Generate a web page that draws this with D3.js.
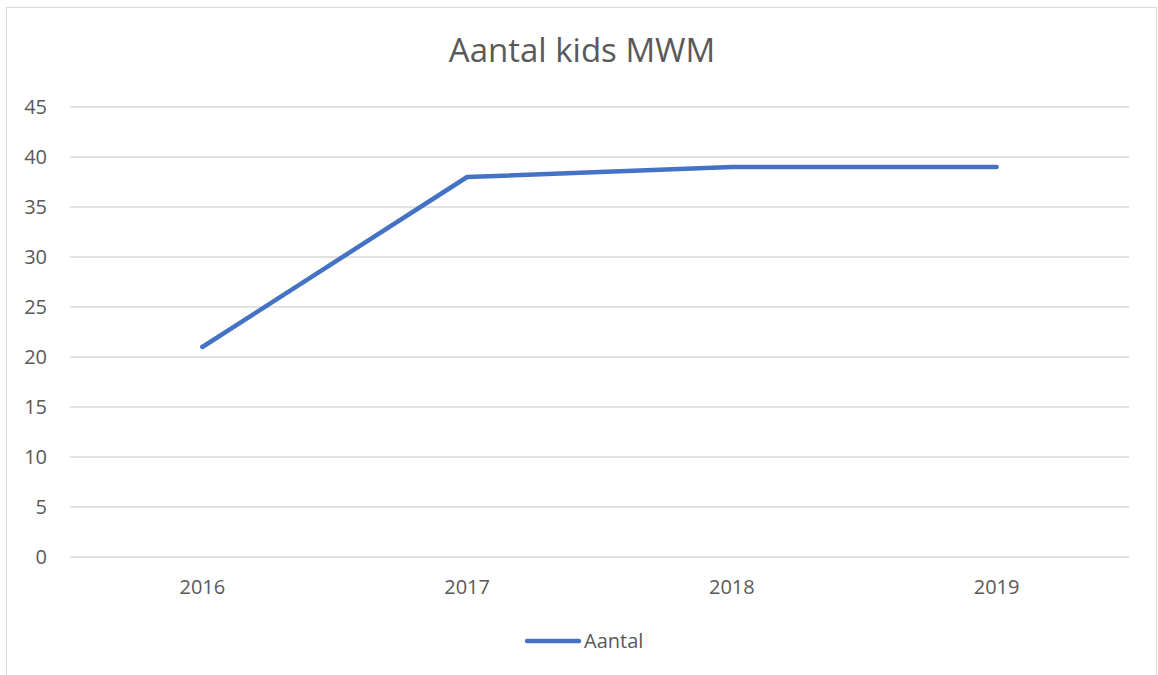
<!DOCTYPE html>
<meta charset="utf-8">
<style>
  body { margin: 0; background: #fff; }
  text { font-family: "Open Sans", "Noto Sans", sans-serif; fill: #595959; }
</style>
<body>
<script src="https://d3js.org/d3.v7.min.js"></script>
<script>

var years = ["2016", "2017", "2018", "2019"];
var aantal = [21, 38, 39, 39];
var yTicks = [0, 5, 10, 15, 20, 25, 30, 35, 40, 45];
var title = "Aantal kids MWM";
var seriesName = "Aantal";

var width = 1158, height = 675;
var plotLeft = 70, plotRight = 1129, plotTop = 107, plotBottom = 557;

var svg = d3.select("body").append("svg")
    .attr("width", width)
    .attr("height", height);

// chart frame
svg.append("rect")
   .attr("x", 6.5).attr("y", 7.5)
   .attr("width", 1150).attr("height", 690)
   .attr("fill", "none")
   .attr("stroke", "#d9d9d9");

var x = d3.scaleBand().domain(years).range([plotLeft, plotRight]);
var y = d3.scaleLinear().domain([0, 45]).range([plotBottom, plotTop]);

// gridlines
svg.selectAll("line.grid")
   .data(yTicks)
   .enter().append("line")
   .attr("class", "grid")
   .attr("x1", plotLeft).attr("x2", plotRight)
   .attr("y1", function(d){ return y(d); })
   .attr("y2", function(d){ return y(d); })
   .attr("stroke", "#d9d9d9")
   .attr("stroke-width", 1.3);

// y labels
svg.selectAll("text.ylab")
   .data(yTicks)
   .enter().append("text")
   .attr("class", "ylab")
   .attr("x", 47)
   .attr("y", function(d){ return y(d); })
   .attr("dy", "0.35em")
   .attr("text-anchor", "end")
   .style("font-size", "20px")
   .text(function(d){ return d; });

// x labels
svg.selectAll("text.xlab")
   .data(years)
   .enter().append("text")
   .attr("class", "xlab")
   .attr("x", function(d){ return x(d) + x.bandwidth() / 2; })
   .attr("y", 587)
   .attr("dy", "0.35em")
   .attr("text-anchor", "middle")
   .style("font-size", "20px")
   .text(function(d){ return d; });

// series line
var line = d3.line()
   .x(function(d, i){ return x(years[i]) + x.bandwidth() / 2; })
   .y(function(d){ return y(d); });

svg.append("path")
   .datum(aantal)
   .attr("d", line)
   .attr("fill", "none")
   .attr("stroke", "#4472c4")
   .attr("stroke-width", 4.5)
   .attr("stroke-linecap", "round")
   .attr("stroke-linejoin", "round");

// title
svg.append("text")
   .attr("x", 582)
   .attr("y", 50)
   .attr("dy", "0.35em")
   .attr("text-anchor", "middle")
   .style("font-size", "33px")
   .text(title);

// legend
svg.append("line")
   .attr("x1", 527).attr("x2", 579)
   .attr("y1", 641).attr("y2", 641)
   .attr("stroke", "#4472c4")
   .attr("stroke-width", 4.5)
   .attr("stroke-linecap", "round");

svg.append("text")
   .attr("x", 584)
   .attr("y", 641)
   .attr("dy", "0.35em")
   .style("font-size", "20px")
   .text(seriesName);

</script>
</body>
